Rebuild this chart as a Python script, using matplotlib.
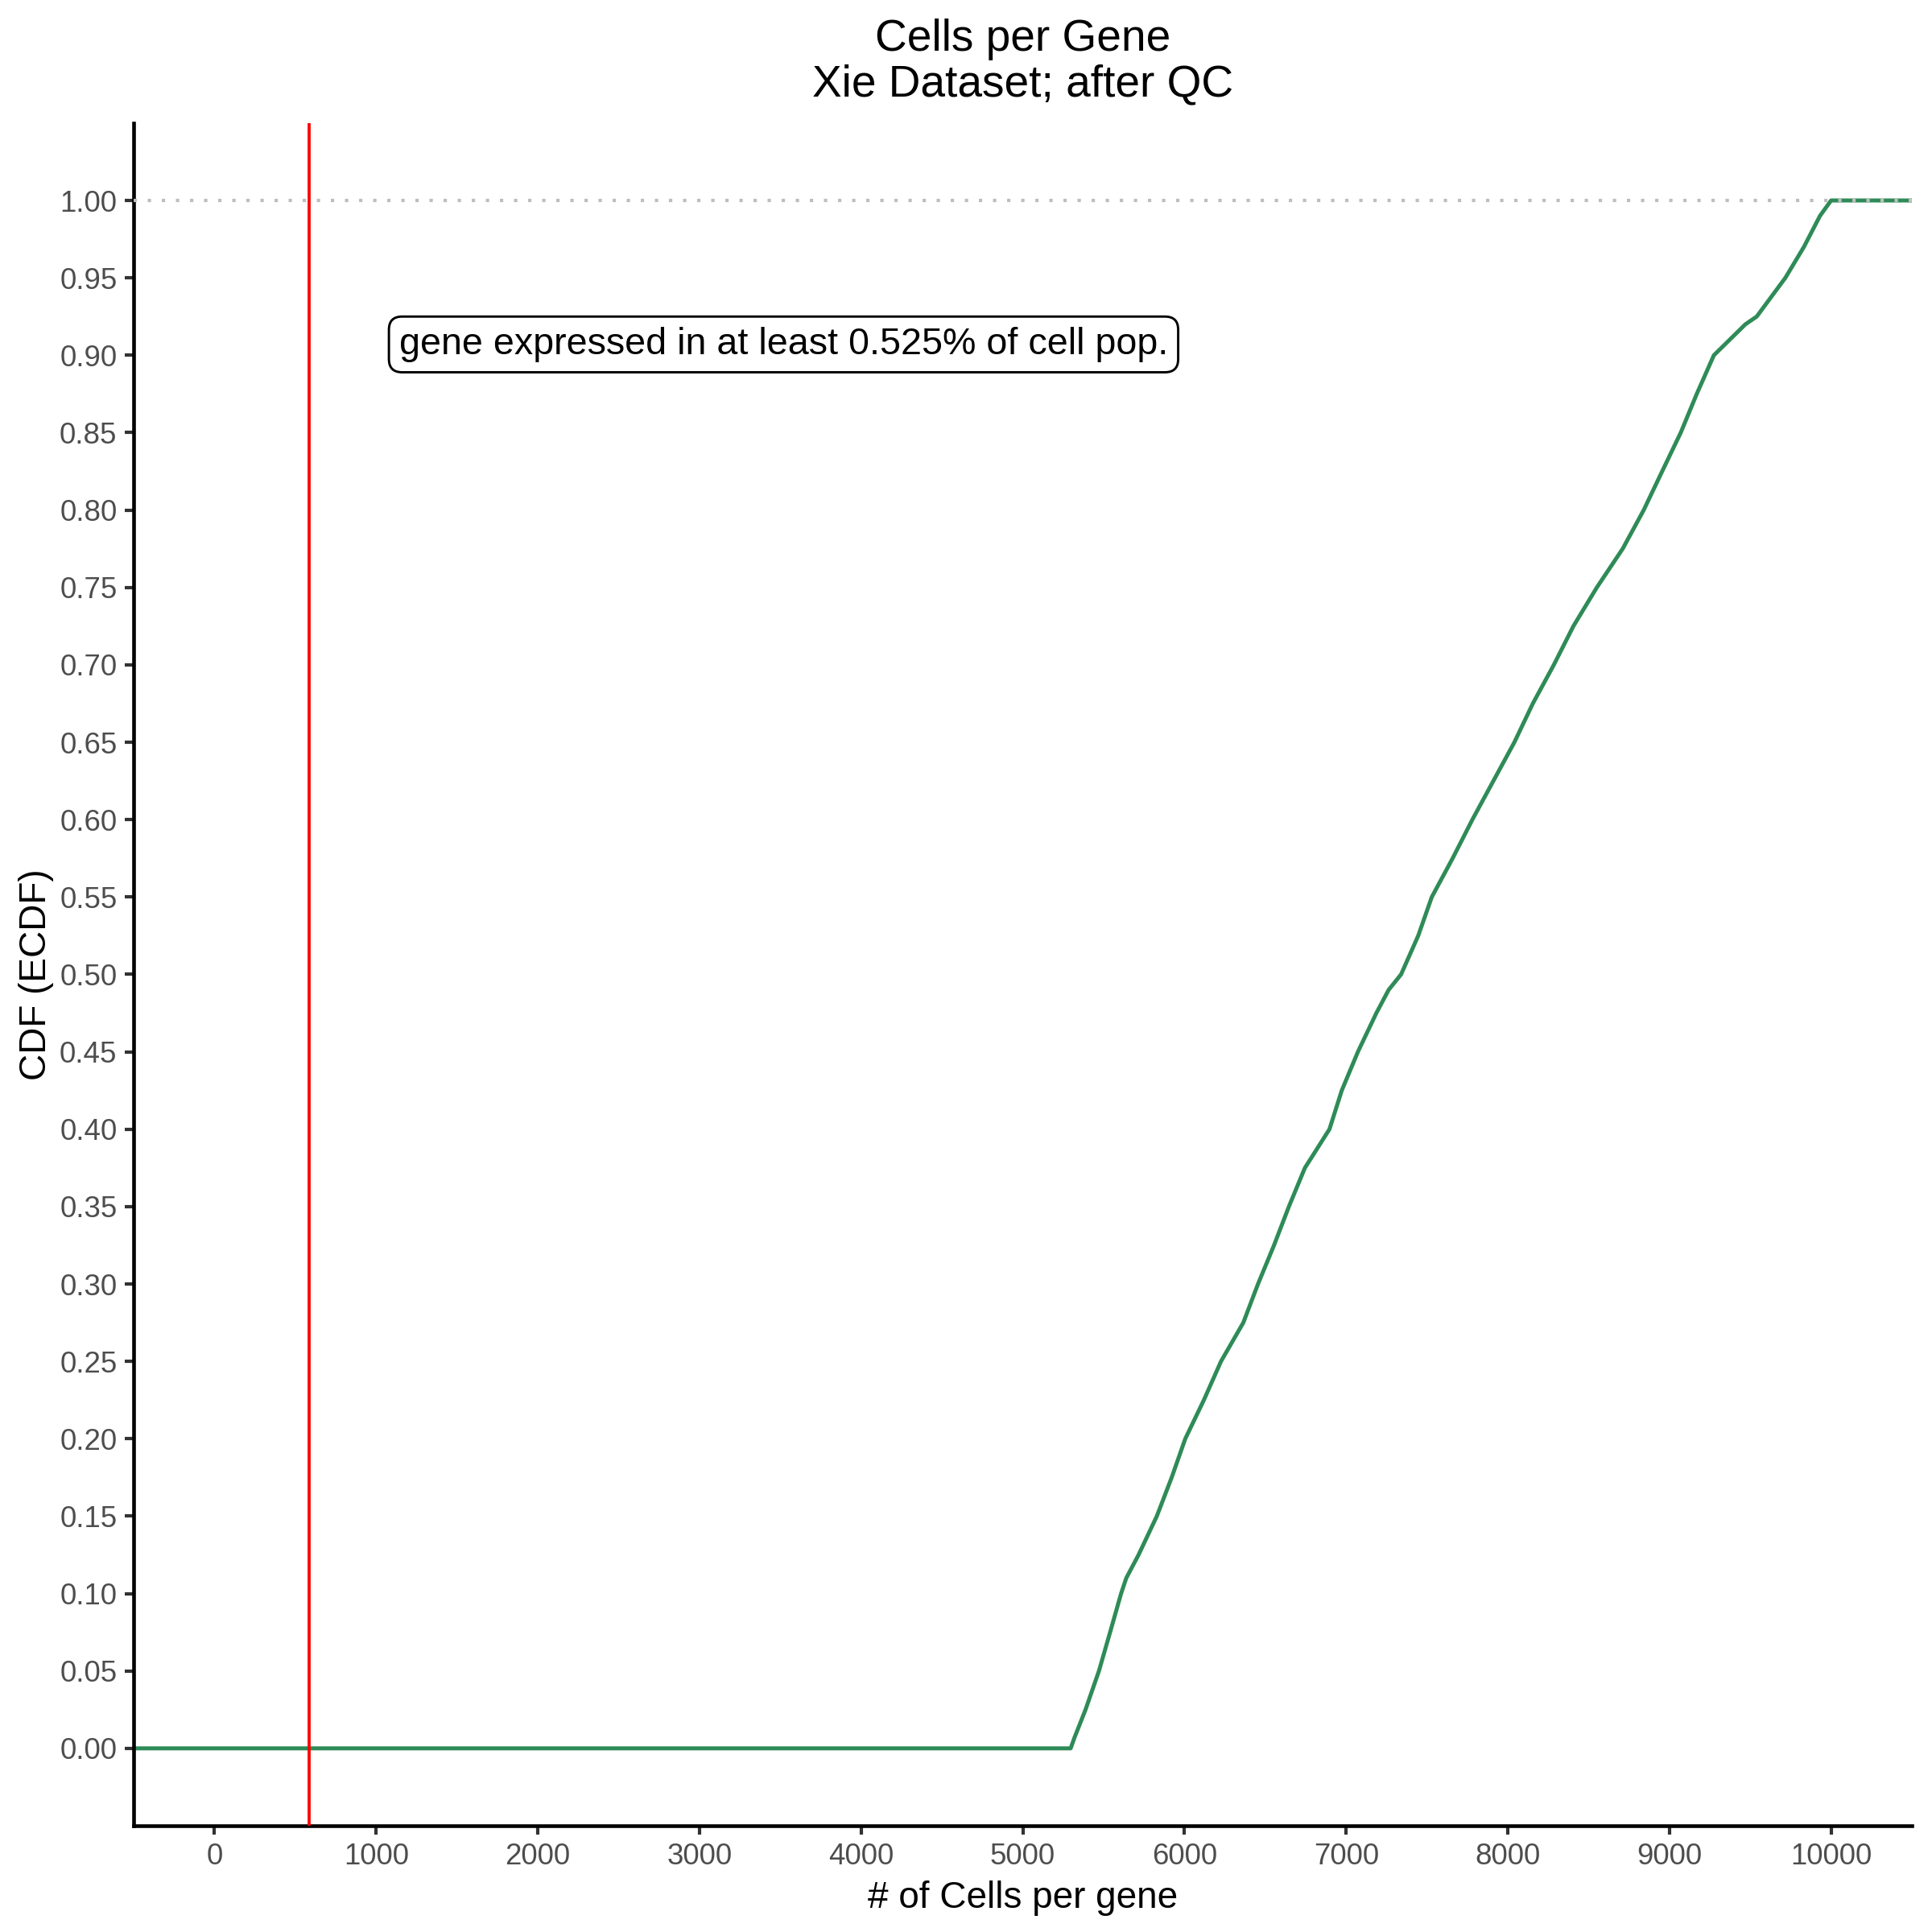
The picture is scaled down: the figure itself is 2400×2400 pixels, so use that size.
# ECDF jumlah sel per gen (Xie dataset, setelah QC)
import numpy as np
import matplotlib.pyplot as plt

plt.rcParams['font.family'] = ['Liberation Sans', 'DejaVu Sans']

# titik-titik ECDF yang dibaca dari gambar
cells = [-500, 5296, 5320, 5388, 5471, 5540, 5608, 5640, 5716, 5829, 5921, 6005,
         6120, 6226, 6364, 6455, 6554, 6646, 6745, 6806, 6897, 6973, 7073, 7187,
         7263, 7340, 7446, 7530, 7659, 7781, 7911, 8041, 8155, 8285, 8406, 8551,
         8711, 8841, 8955, 9070, 9169, 9275, 9470, 9540, 9717, 9832, 9931, 10000, 10500]
cdf = [0.0, 0.0, 0.007, 0.025, 0.05, 0.075, 0.10, 0.11, 0.125, 0.15, 0.175, 0.20,
       0.225, 0.25, 0.275, 0.30, 0.325, 0.35, 0.375, 0.385, 0.40, 0.425, 0.45, 0.475,
       0.49, 0.50, 0.525, 0.55, 0.575, 0.60, 0.625, 0.65, 0.675, 0.70, 0.725, 0.75,
       0.775, 0.80, 0.825, 0.85, 0.875, 0.90, 0.92, 0.925, 0.95, 0.97, 0.99, 1.0, 1.0]

cutoff = 586
label_x, label_y = 3520, 0.907
label_txt = "gene expressed in at least 0.525% of cell pop."

x_ticks = np.arange(0, 10001, 1000)
y_ticks = np.arange(0, 1.0001, 0.05)

fig = plt.figure(figsize=(8, 8), dpi=300)
ax = fig.add_axes([0.0692, 0.055, 0.9204, 0.8813])

ax.plot(cells, cdf, color='#2E8B57', lw=1.2, zorder=2)
ax.axhline(1.0, color='#BEBEBE', lw=1.0, ls=(0, (1, 3.2)), zorder=3)
ax.axvline(cutoff, color='red', lw=0.9, zorder=4)

ax.text(label_x, label_y, label_txt, fontsize=11.2, ha='center', va='center',
        bbox=dict(boxstyle='round,pad=0.27,rounding_size=0.35', fc='white',
                  ec='black', lw=0.7), zorder=5)

ax.set_xlim(-500, 10500)
ax.set_ylim(-0.05, 1.05)
ax.set_xticks(x_ticks)
ax.set_xticklabels([str(v) for v in x_ticks])
ax.set_yticks(y_ticks)
ax.set_yticklabels([f"{v:.2f}" for v in y_ticks])
ax.tick_params(length=2.75, width=1.0, color='#333333', labelcolor='#4D4D4D',
               labelsize=8.8, pad=2.2)

for s in ['top', 'right']:
    ax.spines[s].set_visible(False)
for s in ['left', 'bottom']:
    ax.spines[s].set_linewidth(1.1)
    ax.spines[s].set_color('black')

ax.set_xlabel("# of Cells per gene", fontsize=11, labelpad=3)
ax.set_ylabel("CDF (ECDF)", fontsize=11, labelpad=1.8)
ax.set_title("Cells per Gene\nXie Dataset; after QC", fontsize=13.2, pad=8,
             linespacing=1.12)

plt.savefig("out.png", dpi=300)
